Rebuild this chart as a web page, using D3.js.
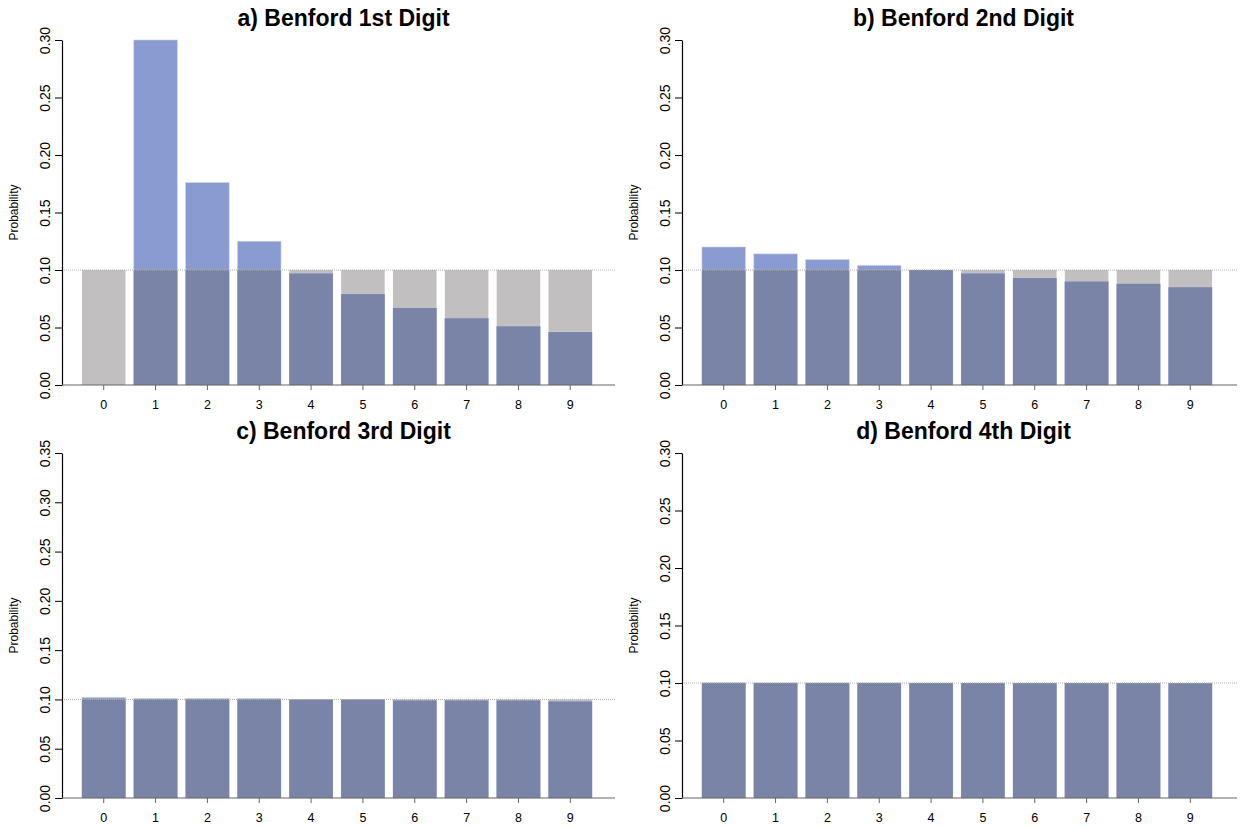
<!DOCTYPE html>
<html>
<head>
<meta charset="utf-8">
<script src="https://cdn.jsdelivr.net/npm/d3@7"></script>
<style>
  body { margin: 0; background: #fff; }
  text { font-family: "Liberation Sans", Arial, sans-serif; }
</style>
</head>
<body>
<div id="chart"></div>
<script>
const digits = ['0', '1', '2', '3', '4', '5', '6', '7', '8', '9'];
const uniform = [0.1, 0.1, 0.1, 0.1, 0.1, 0.1, 0.1, 0.1, 0.1, 0.1];
const benford1 = [0, 0.301, 0.176, 0.125, 0.097, 0.079, 0.067, 0.058, 0.051, 0.046];
const benford2 = [0.120, 0.114, 0.109, 0.104, 0.100, 0.097, 0.093, 0.090, 0.088, 0.085];
const benford3 = [0.102, 0.101, 0.101, 0.101, 0.100, 0.100, 0.099, 0.099, 0.099, 0.098];
const benford4 = [0.1002, 0.1001, 0.1001, 0.1001, 0.1000, 0.1000, 0.0999, 0.0999, 0.0999, 0.0998];
const titles = ['a) Benford 1st Digit', 'b) Benford 2nd Digit', 'c) Benford 3rd Digit', 'd) Benford 4th Digit'];
const yMax = [0.30, 0.30, 0.35, 0.30];

const series = [benford1, benford2, benford3, benford4];

let svg = d3.select('#chart')
  .append('svg')
  .attr('width', 1240)
  .attr('height', 827);

function createPanel(i) {
  let left = (i % 2) * 620,
    top = i < 2 ? 0 : 413;
  let margin = { top: 40, left: 62, right: 5 },
    width = 615 - margin.left,
    height = 345;

  let g = svg.append('g')
    .attr('transform', `translate(${left}, ${top})`);

  let data = digits.map((d, k) => ({ name: d, uni: uniform[k], val: series[i][k] }));

  let x = d3.scaleBand()
    .domain(digits)
    .range([77.8, 596.2])
    .paddingInner(0.16)
    .paddingOuter(0.08);

  let y = d3.scaleLinear()
    .domain([0, yMax[i]])
    .range([margin.top + height, margin.top]);

  // grey uniform bars
  g.selectAll('.uni')
    .data(data)
    .enter()
    .append('rect')
    .attr('class', 'uni')
    .attr('x', d => x(d.name))
    .attr('y', d => y(d.uni))
    .attr('width', x.bandwidth())
    .attr('height', d => y(0) - y(d.uni))
    .style('fill', '#c1bfc0');

  // blue benford bars
  g.selectAll('.ben')
    .data(data)
    .enter()
    .append('rect')
    .attr('class', 'ben')
    .attr('x', d => x(d.name))
    .attr('y', d => y(Math.min(d.val, yMax[i])))
    .attr('width', x.bandwidth())
    .attr('height', d => y(0) - y(Math.min(d.val, yMax[i])))
    .style('fill', '#8a9bd2')
    .style('stroke', '#c9d0ea')
    .style('stroke-width', 0.6);

  // overlap
  g.selectAll('.both')
    .data(data)
    .enter()
    .append('rect')
    .attr('class', 'both')
    .attr('x', d => x(d.name))
    .attr('y', d => y(Math.min(d.val, d.uni)))
    .attr('width', x.bandwidth())
    .attr('height', d => y(0) - y(Math.min(d.val, d.uni)))
    .style('fill', '#7a84a6');

  // dotted reference line
  g.append('line')
    .attr('x1', margin.left)
    .attr('x2', i % 2 ? 617 : 615)
    .attr('y1', y(0.1))
    .attr('y2', y(0.1))
    .style('stroke', '#b0b0b0')
    .style('stroke-width', 1)
    .style('stroke-dasharray', '1,1');

  // y axis
  let ticks = d3.range(0, yMax[i] + 0.001, 0.05);
  let yAxis = g.append('g')
    .attr('transform', `translate(${margin.left}, 0)`)
    .call(d3.axisLeft(y).tickValues(ticks).tickFormat(d3.format('.2f')).tickSize(7).tickSizeOuter(0));
  yAxis.select('.domain').style('stroke', '#000').style('stroke-width', 1.2);
  yAxis.selectAll('.tick line').style('stroke', '#000');
  yAxis.selectAll('text')
    .attr('transform', 'rotate(-90)')
    .attr('x', 0)
    .attr('y', -12)
    .attr('dy', 0)
    .attr('text-anchor', 'middle')
    .style('font-size', '14px')
    .style('fill', '#000');

  // x axis
  let xAxis = g.append('g')
    .attr('transform', `translate(0, ${y(0)})`)
    .call(d3.axisBottom(x).tickSize(5).tickSizeOuter(0));
  xAxis.select('.domain').remove();
  xAxis.append('line')
    .attr('x1', margin.left)
    .attr('x2', i % 2 ? 617 : 615)
    .style('stroke', '#666')
    .style('stroke-width', 1.2);
  xAxis.selectAll('.tick line').style('stroke', '#666');
  xAxis.selectAll('text')
    .attr('y', 15)
    .attr('dy', '0.71em')
    .style('font-size', '12.5px')
    .style('fill', '#000');

  // y label
  g.append('text')
    .attr('transform', `translate(18, ${margin.top + height / 2}) rotate(-90)`)
    .attr('text-anchor', 'middle')
    .style('font-size', '12px')
    .text('Probability');

  // title
  g.append('text')
    .attr('x', (margin.left + 615) / 2 + 5)
    .attr('y', 26)
    .attr('text-anchor', 'middle')
    .style('font-size', '23px')
    .style('font-weight', 'bold')
    .text(titles[i]);
}

[0, 1, 2, 3].forEach(createPanel);
</script>
</body>
</html>
